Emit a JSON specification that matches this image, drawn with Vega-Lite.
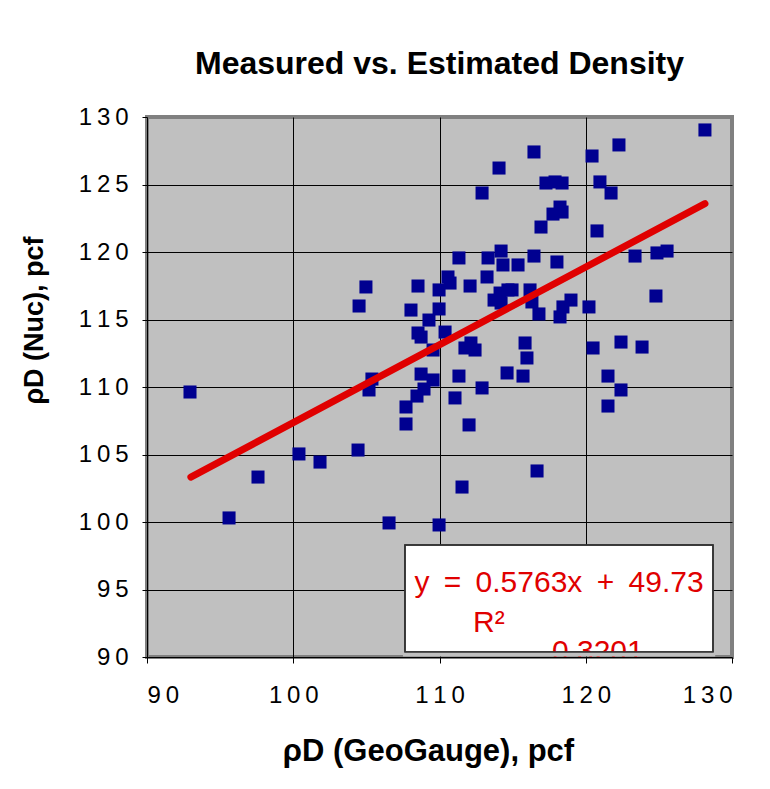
{
  "$schema": "https://vega.github.io/schema/vega-lite/v6.json",
  "width": 585,
  "height": 540,
  "autosize": "none",
  "padding": {"left": 147, "top": 117, "right": 38, "bottom": 132},
  "background": "white",
  "title": {"text": "Measured vs. Estimated Density", "font": "Liberation Sans", "fontSize": 32, "fontWeight": "bold", "color": "black", "anchor": "middle", "offset": 24},
  "config": {
    "view": {"fill": "#C0C0C0", "stroke": "#808080", "strokeWidth": 4},
    "axis": {"labelFont": "Liberation Sans", "labelFontSize": 24, "labelColor": "black", "labelExpr": "join(split(datum.label, ''), '\u2009')", "titleFont": "Liberation Sans", "titleFontSize": 31, "titleFontWeight": "bold", "titleColor": "black", "domainColor": "black", "domainWidth": 1, "tickColor": "black", "tickWidth": 1, "gridColor": "black", "gridWidth": 1, "gridOpacity": 1}
  },
  "datasets": {
    "pts": [
      {"x": 92.94, "y": 109.63}, {"x": 95.61, "y": 100.30}, {"x": 97.59, "y": 103.33}, {"x": 100.39, "y": 105.04},
      {"x": 101.83, "y": 104.44}, {"x": 104.43, "y": 105.33}, {"x": 104.50, "y": 116.00}, {"x": 104.97, "y": 117.41},
      {"x": 105.18, "y": 109.78}, {"x": 105.38, "y": 110.59}, {"x": 106.55, "y": 99.93}, {"x": 107.71, "y": 108.52},
      {"x": 107.71, "y": 107.26}, {"x": 108.05, "y": 115.70}, {"x": 108.53, "y": 117.48}, {"x": 108.53, "y": 114.00},
      {"x": 108.74, "y": 113.70}, {"x": 108.74, "y": 110.96}, {"x": 108.46, "y": 109.33}, {"x": 108.94, "y": 109.85},
      {"x": 109.28, "y": 114.96}, {"x": 109.56, "y": 112.74}, {"x": 109.56, "y": 110.52}, {"x": 109.97, "y": 99.78},
      {"x": 109.97, "y": 117.19}, {"x": 109.97, "y": 115.78}, {"x": 110.38, "y": 114.07}, {"x": 110.58, "y": 118.15},
      {"x": 110.72, "y": 117.70}, {"x": 111.06, "y": 109.19}, {"x": 111.33, "y": 119.56}, {"x": 111.33, "y": 110.81},
      {"x": 111.54, "y": 102.59}, {"x": 111.74, "y": 112.89}, {"x": 112.09, "y": 117.48}, {"x": 112.15, "y": 113.26},
      {"x": 112.43, "y": 112.74}, {"x": 112.02, "y": 107.19}, {"x": 112.91, "y": 124.37}, {"x": 112.91, "y": 109.93},
      {"x": 113.25, "y": 118.15}, {"x": 113.32, "y": 119.56}, {"x": 113.73, "y": 116.44}, {"x": 114.14, "y": 116.96},
      {"x": 114.07, "y": 126.22}, {"x": 114.21, "y": 120.07}, {"x": 114.34, "y": 119.04}, {"x": 114.62, "y": 111.04},
      {"x": 114.68, "y": 117.19}, {"x": 115.37, "y": 119.04}, {"x": 114.96, "y": 117.19}, {"x": 115.71, "y": 110.81},
      {"x": 115.85, "y": 113.26}, {"x": 115.98, "y": 112.15}, {"x": 116.19, "y": 117.19}, {"x": 116.32, "y": 116.30},
      {"x": 116.46, "y": 127.41}, {"x": 116.46, "y": 119.70}, {"x": 116.67, "y": 103.78}, {"x": 116.80, "y": 115.41},
      {"x": 116.94, "y": 121.85}, {"x": 117.28, "y": 125.11}, {"x": 117.90, "y": 125.19}, {"x": 118.03, "y": 119.26},
      {"x": 118.24, "y": 123.33}, {"x": 117.76, "y": 122.81}, {"x": 118.38, "y": 122.96}, {"x": 118.38, "y": 125.11},
      {"x": 118.24, "y": 115.19}, {"x": 118.44, "y": 115.93}, {"x": 118.99, "y": 116.44}, {"x": 120.22, "y": 115.93},
      {"x": 120.43, "y": 127.11}, {"x": 120.50, "y": 112.89}, {"x": 120.77, "y": 121.56}, {"x": 120.97, "y": 125.19},
      {"x": 121.52, "y": 110.81}, {"x": 121.52, "y": 108.59}, {"x": 121.73, "y": 124.37}, {"x": 122.27, "y": 127.93},
      {"x": 122.41, "y": 113.33}, {"x": 122.41, "y": 109.78}, {"x": 123.37, "y": 119.70}, {"x": 123.85, "y": 112.96},
      {"x": 124.80, "y": 116.74}, {"x": 124.87, "y": 119.93}, {"x": 125.56, "y": 120.07}, {"x": 128.15, "y": 129.04},
      {"x": 114.21, "y": 116.22}
    ],
    "fit": [{"x": 93.0, "y": 103.33}, {"x": 128.15, "y": 123.58}],
    "one": [{}]
  },
  "layer": [
    {
      "data": {"name": "pts"},
      "mark": {"type": "square", "size": 170, "color": "#000090", "opacity": 1},
      "encoding": {
        "x": {"field": "x", "type": "quantitative",
          "scale": {"domain": [90, 130], "nice": false, "zero": false},
          "axis": {"values": [90, 100, 110, 120, 130], "title": "ρD (GeoGauge), pcf", "tickSize": 6, "labelPadding": 20,
            "gridOpacity": {"condition": {"test": "datum.value == 130 || datum.value == 90", "value": 0}, "value": 1},
            "titleX": 281, "titleY": 103, "titleBaseline": "alphabetic", "titleAlign": "center"}},
        "y": {"field": "y", "type": "quantitative",
          "scale": {"domain": [90, 130], "nice": false, "zero": false},
          "axis": {"values": [90, 95, 100, 105, 110, 115, 120, 125, 130], "title": "ρD (Nuc), pcf", "tickSize": 5, "labelPadding": 14, "titleFontSize": 27,
            "gridOpacity": {"condition": {"test": "datum.value == 130 || datum.value == 90", "value": 0}, "value": 1},
            "titleX": -113, "titleY": 203, "titleBaseline": "middle", "titleAlign": "center", "titleAngle": -90}}
      }
    },
    {
      "data": {"name": "fit"},
      "mark": {"type": "line", "color": "#E00000", "strokeWidth": 7, "strokeCap": "round"},
      "encoding": {"x": {"field": "x", "type": "quantitative"}, "y": {"field": "y", "type": "quantitative"}}
    },
    {
      "data": {"name": "one"},
      "mark": {"type": "rect", "fill": "white", "stroke": "#303030", "strokeWidth": 1.5},
      "encoding": {"x": {"datum": 107.64}, "x2": {"datum": 128.7}, "y": {"datum": 98.3}, "y2": {"datum": 90.37}}
    },
    {
      "data": {"name": "one"},
      "mark": {"type": "text", "text": "y \u2009= \u20090.5763x \u2009+ \u200949.73", "font": "Liberation Sans", "fontSize": 30, "color": "#E00000", "align": "center", "baseline": "alphabetic"},
      "encoding": {"x": {"datum": 118.17}, "y": {"datum": 94.81}}
    },
    {
      "data": {"name": "one"},
      "mark": {"type": "text", "text": "R²", "font": "Liberation Sans", "fontSize": 30, "color": "#E00000", "align": "left", "baseline": "alphabetic"},
      "encoding": {"x": {"datum": 112.29}, "y": {"datum": 91.85}}
    },
    {
      "data": {"name": "one"},
      "mark": {"type": "text", "text": "0.3201", "font": "Liberation Sans", "fontSize": 30, "color": "#E00000", "align": "left", "baseline": "alphabetic", "clip": true},
      "encoding": {"x": {"datum": 117.69}, "y": {"datum": 89.7}}
    },
    {
      "data": {"name": "one"},
      "mark": {"type": "rect", "fill": "#C0C0C0"},
      "encoding": {"x": {"datum": 107.5}, "x2": {"datum": 128.85}, "y": {"datum": 90.37}, "y2": {"datum": 90.04}}
    },
    {
      "data": {"name": "one"},
      "mark": {"type": "rect", "fill": null, "fillOpacity": 0, "stroke": "#303030", "strokeWidth": 1.5},
      "encoding": {"x": {"datum": 107.64}, "x2": {"datum": 128.7}, "y": {"datum": 98.3}, "y2": {"datum": 90.37}}
    }
  ]
}
